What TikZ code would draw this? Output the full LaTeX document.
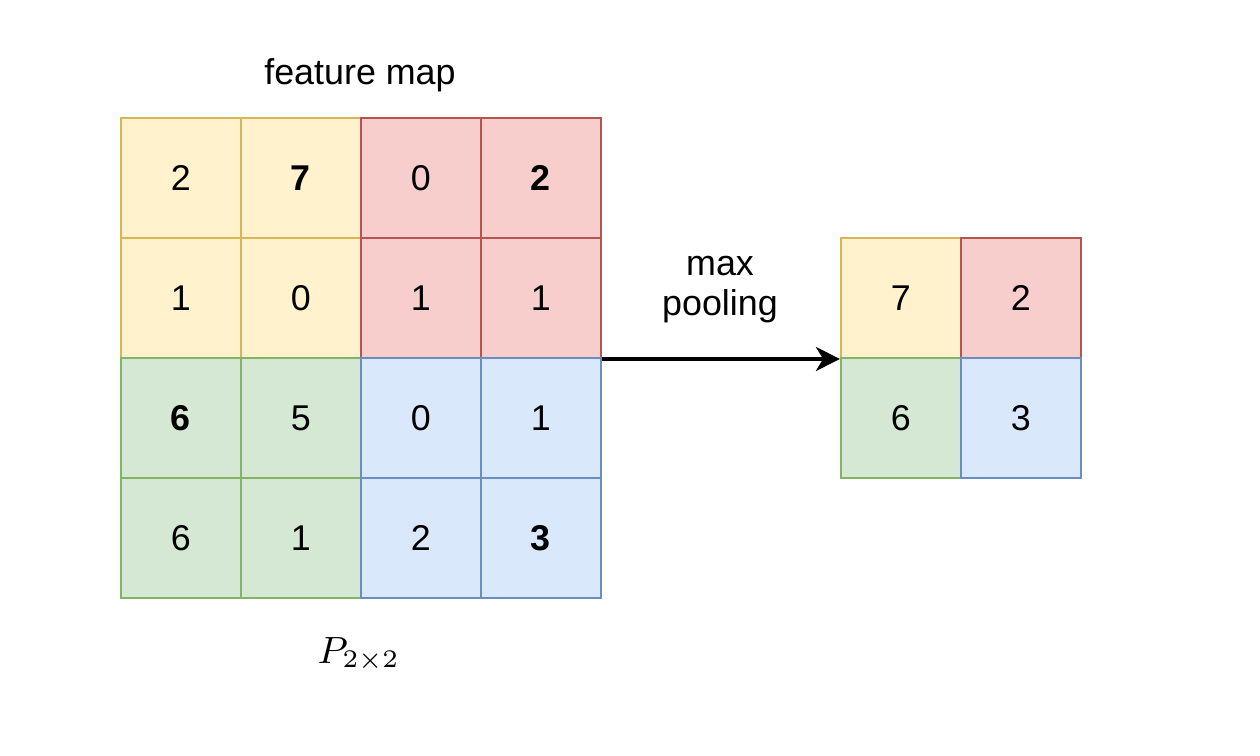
\documentclass[tikz,border=0pt]{standalone}
\usepackage{fontspec}
\setmainfont{Liberation Sans}
\usetikzlibrary{arrows.meta}

\definecolor{yfill}{HTML}{FFF2CC}
\definecolor{ydraw}{HTML}{D6B656}
\definecolor{rfill}{HTML}{F8CECC}
\definecolor{rdraw}{HTML}{B85450}
\definecolor{gfill}{HTML}{D5E8D4}
\definecolor{gdraw}{HTML}{82B366}
\definecolor{bfill}{HTML}{DAE8FC}
\definecolor{bdraw}{HTML}{6C8EBF}

\begin{document}
\begin{tikzpicture}[
    cell/.style={draw, minimum size=1cm, inner sep=0pt, line width=0.5pt,
                 font=\fontsize{8.5}{9.5}\selectfont},
    yellow/.style={cell, fill=yfill, draw=ydraw},
    red/.style={cell, fill=rfill, draw=rdraw},
    green/.style={cell, fill=gfill, draw=gdraw},
    blue/.style={cell, fill=bfill, draw=bdraw}]
    \useasboundingbox (0,0) rectangle (10.5,6.3);

    % Feature map
    \foreach \r/\c/\v/\q in {1/1/2/yellow,1/2/\textbf{7}/yellow,2/1/1/yellow,2/2/0/yellow,
                             1/3/0/red,1/4/\textbf{2}/red,2/3/1/red,2/4/1/red,
                             3/1/\textbf{6}/green,3/2/5/green,4/1/6/green,4/2/1/green,
                             3/3/0/blue,3/4/1/blue,4/3/2/blue,4/4/\textbf{3}/blue}
        \node[\q] (c-\r-\c) at ({\c+0.508},{5.817-\r}) {\v};

    % Pooled map
    \foreach \r/\c/\v/\q in {1/1/7/yellow,1/2/2/red,2/1/6/green,2/2/3/blue}
        \node[\q] (p-\r-\c) at ({\c+6.508},{4.817-\r}) {\v};

    % Labels
    \node[font=\fontsize{8.5}{9.5}\selectfont] (title) at (3.0,5.67) {feature map};
    \node[font=\fontsize{8.5}{9.5}\selectfont, align=center] (pool) at (6.0,3.89) {max\\pooling};
    \node[font=\fontsize{9}{10}\selectfont] (size) at (2.99,0.85) {$P_{2\times2}$};

    % Arrow
    \draw[line width=0.75pt, -{Stealth[length=2mm, width=2mm, inset=0.6mm]}]
        (c-2-4.south east) -- (p-1-1.south west);
\end{tikzpicture}
\end{document}
